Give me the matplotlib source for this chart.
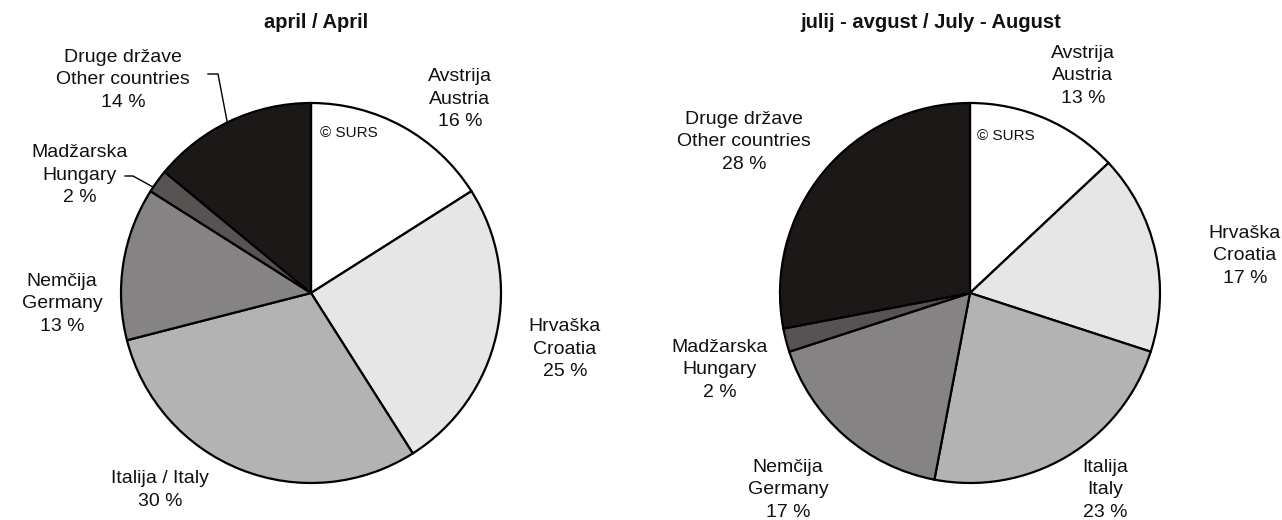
import matplotlib
matplotlib.use("Agg")
import matplotlib.pyplot as plt

plt.rcParams['font.family'] = ['Liberation Sans', 'DejaVu Sans']

# ---- data ----
categories = ["Avstrija / Austria", "Hrvaška / Croatia", "Italija / Italy",
              "Nemčija / Germany", "Madžarska / Hungary", "Druge države / Other countries"]
april_values = [16, 25, 30, 13, 2, 14]
summer_values = [13, 17, 23, 17, 2, 28]
titles = ["april / April", "julij - avgust / July - August"]
april_labels = ["Avstrija\nAustria\n16 %", "Hrvaška\nCroatia\n25 %", "Italija / Italy\n30 %",
                "Nemčija\nGermany\n13 %", "Madžarska\nHungary\n2 %", "Druge države\nOther countries\n14 %"]
summer_labels = ["Avstrija\nAustria\n13 %", "Hrvaška\nCroatia\n17 %", "Italija\nItaly\n23 %",
                 "Nemčija\nGermany\n17 %", "Madžarska\nHungary\n2 %", "Druge države\nOther countries\n28 %"]

# ---- style / layout ----
colors = ["#ffffff", "#e6e6e6", "#b3b3b3", "#858383", "#575352", "#1c1818"]
W, H = 1282, 520
R = 190

fig = plt.figure(figsize=(W / 100, H / 100), dpi=100)
ax = fig.add_axes([0, 0, 1, 1])
ax.set_xlim(0, W)
ax.set_ylim(0, H)
ax.set_aspect('equal')
ax.axis('off')


def py(y):
    return H - y


pies = [
    dict(center=(311, 293), values=april_values, labels=april_labels, title=titles[0],
         title_pos=(316, 23),
         label_pos=[(460, 99), (565, 349), (160, 490), (62, 304), (80, 175), (123, 80)],
         surs=(320, 133),
         leaders=[[(125, 176), (133, 176), (153, 187)], [(208, 74), (218, 74), (227, 121)]]),
    dict(center=(970, 293), values=summer_values, labels=summer_labels, title=titles[1],
         title_pos=(931, 23),
         label_pos=[(1083, 76), (1245, 256), (1105, 490), (788, 490), (720, 370), (744, 142)],
         surs=(977, 136),
         leaders=[]),
]

for p in pies:
    cx, cy = p["center"]
    ax.pie(p["values"], colors=colors, startangle=90, counterclock=False,
           center=(cx, py(cy)), radius=R, frame=True,
           wedgeprops=dict(edgecolor='black', linewidth=1.6))
    ax.text(p["title_pos"][0], py(p["title_pos"][1]), p["title"], ha='center', va='center',
            fontsize=14.5, fontweight='bold', color='#111111')
    for lab, (lx, ly) in zip(p["labels"], p["label_pos"]):
        ax.text(lx, py(ly), lab, ha='center', va='center', fontsize=14,
                color='#111111', linespacing=1.4)
    ax.text(p["surs"][0], py(p["surs"][1]), "© SURS", ha='left', va='center',
            fontsize=11, color='#111111')
    for pts in p["leaders"]:
        ax.plot([q[0] for q in pts], [py(q[1]) for q in pts], color='black', lw=1)

ax.set_xlim(0, W)
ax.set_ylim(0, H)
ax.axis('off')
fig.savefig("out.png", dpi=100)
